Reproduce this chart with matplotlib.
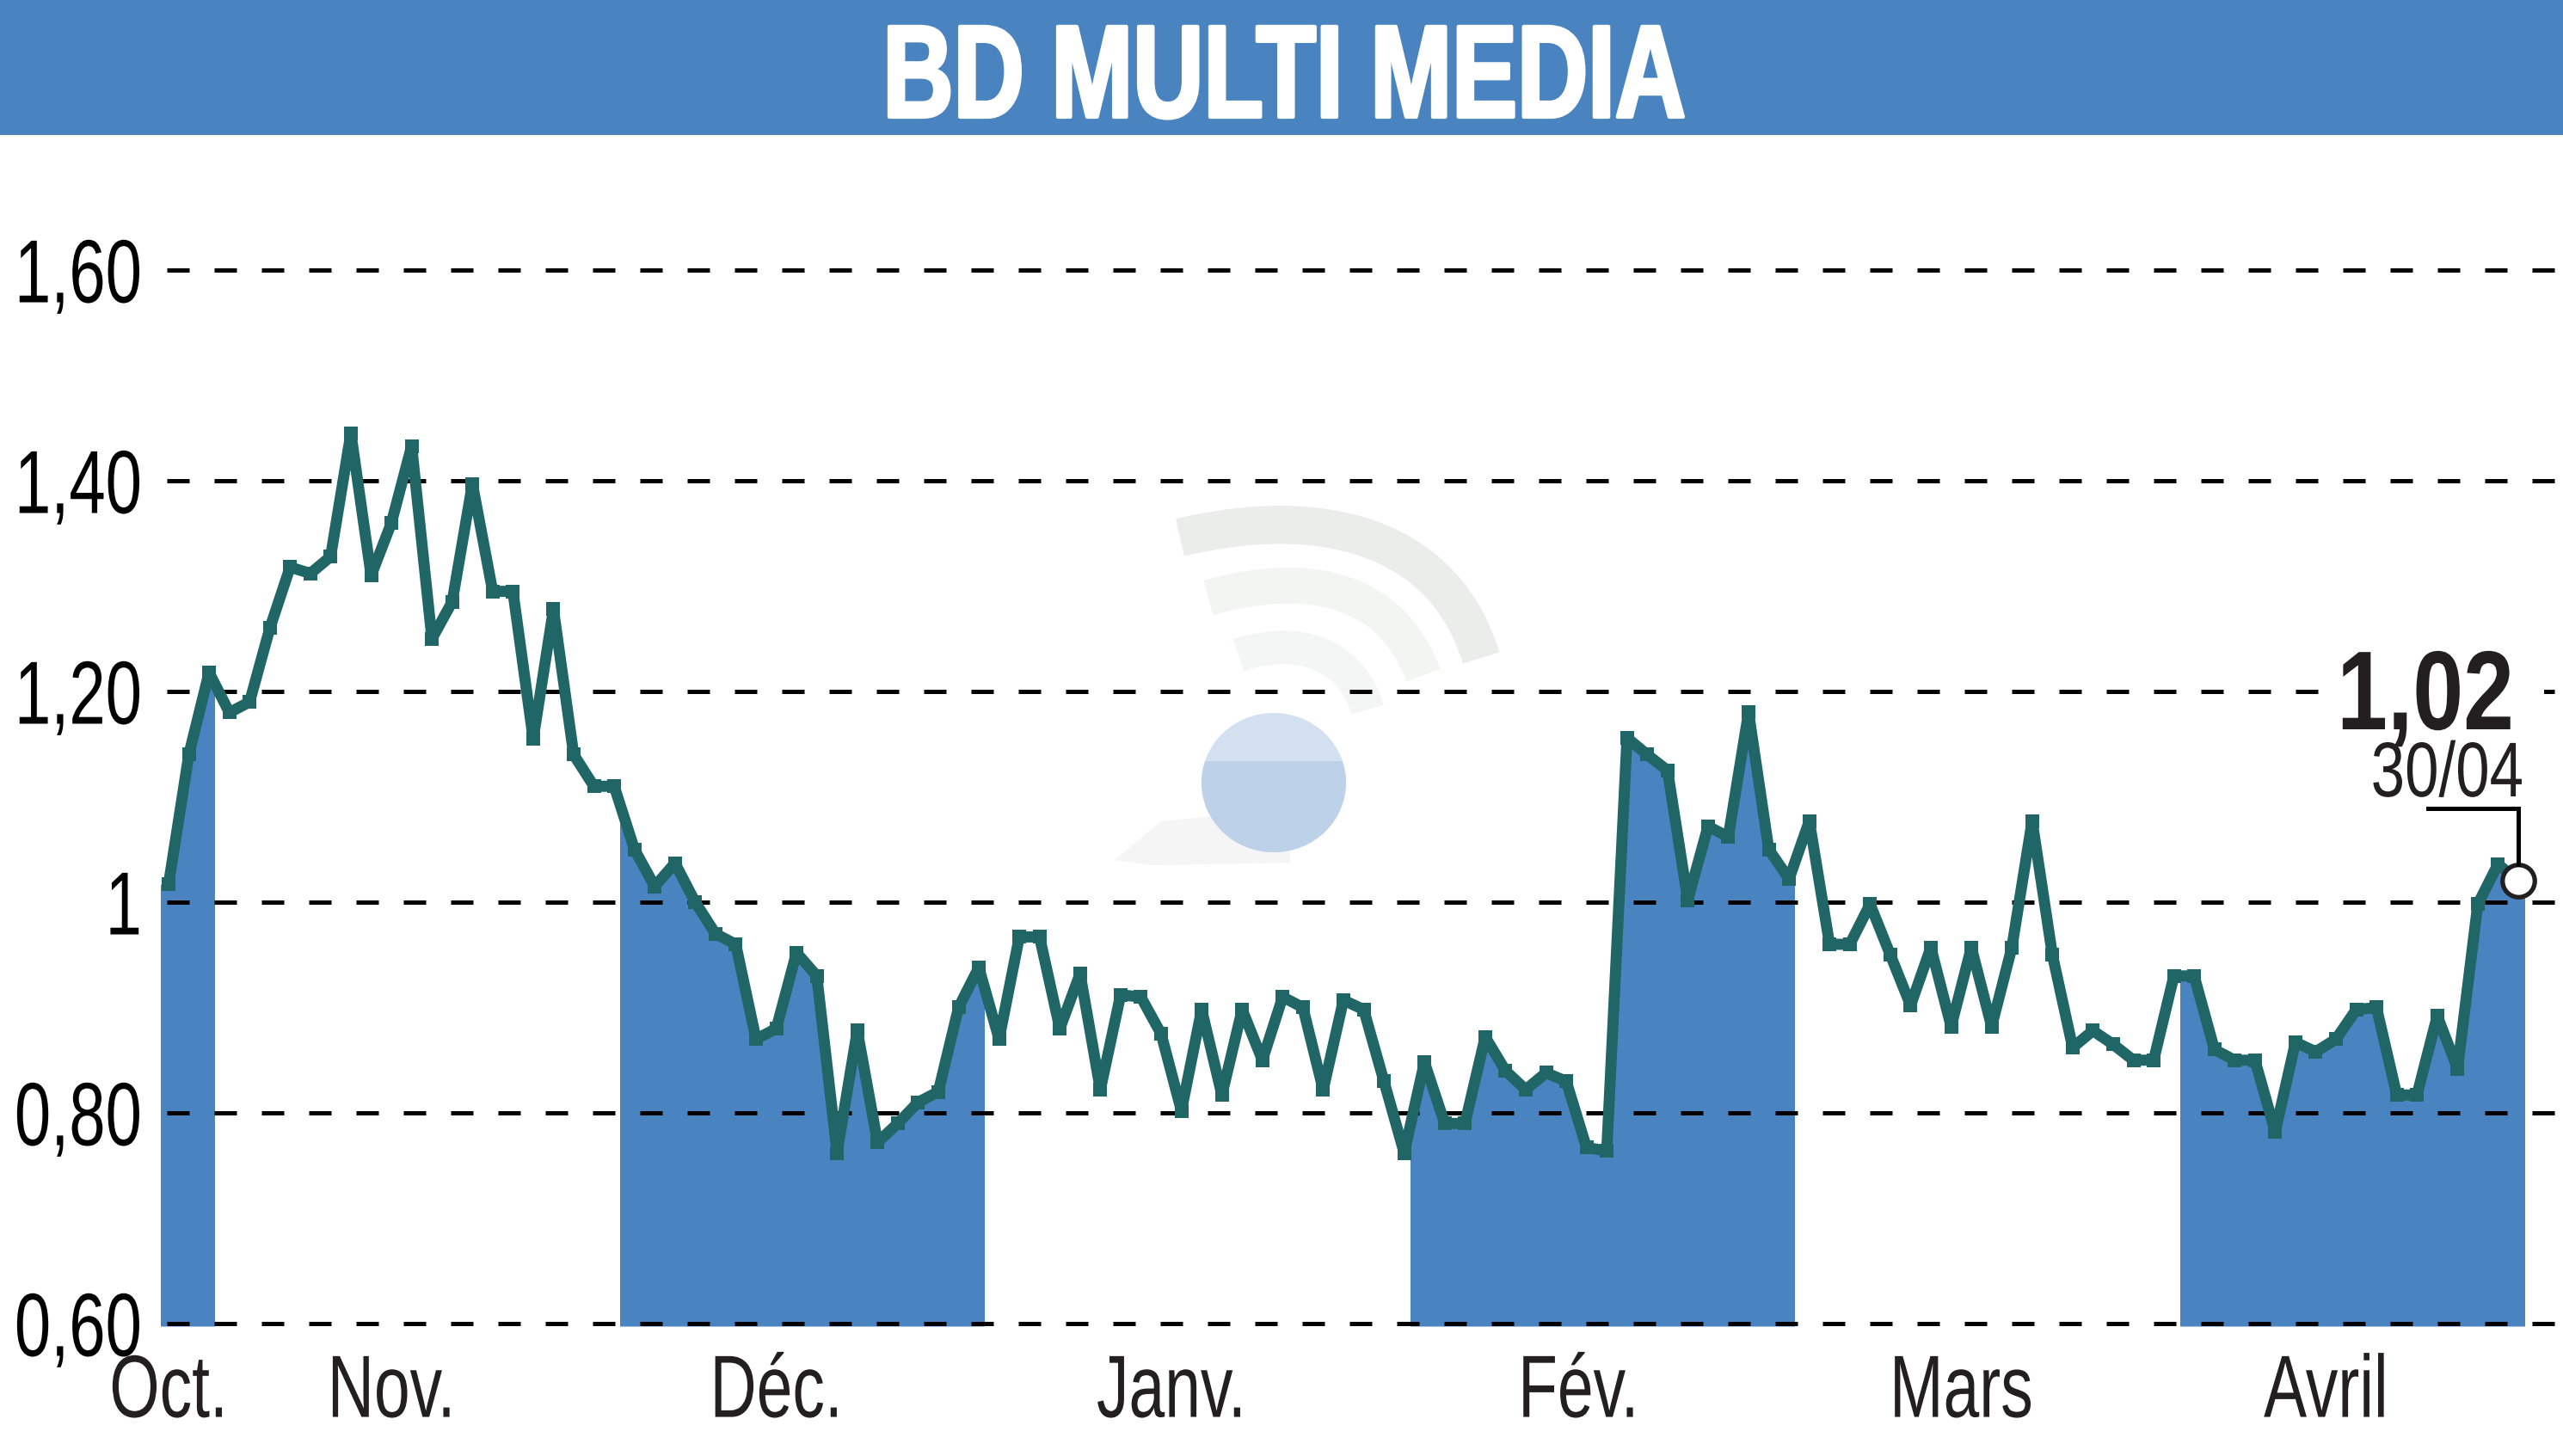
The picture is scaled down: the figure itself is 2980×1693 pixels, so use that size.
import numpy as np
import matplotlib
matplotlib.use("Agg")
import matplotlib.pyplot as plt
from matplotlib.patches import Rectangle, Ellipse, PathPatch, Polygon
from matplotlib.path import Path
from matplotlib.lines import Line2D
from matplotlib.transforms import Affine2D
from matplotlib.patheffects import AbstractPathEffect

title = "BD MULTI MEDIA"
values = [1.017,1.14,1.218,1.18,1.19,1.26,1.318,1.312,1.328,1.445,1.31,1.36,1.433,1.25,1.285,1.397,1.295,1.295,1.155,1.278,
          1.14,1.11,1.11,1.05,1.015,1.037,1.0,.97,.96,.87,.88,.952,.93,.762,.878,.772,.79,.81,.82,.90,
          .938,.87,.967,.967,.88,.932,.822,.912,.91,.875,.802,.898,.817,.898,.85,.91,.90,.822,.907,.898,
          .83,.762,.848,.79,.79,.872,.84,.822,.838,.83,.767,.764,1.156,1.14,1.125,1.002,1.072,1.062,1.18,1.05,
          1.022,1.077,.96,.96,.998,.95,.902,.957,.882,.957,.882,.957,1.077,.95,.862,.878,.865,.85,.85,.93,
          .93,.86,.85,.85,.782,.867,.858,.87,.898,.9,.817,.817,.892,.842,.998,1.036,1.02]
month_labels = ["Oct.", "Nov.", "Déc.", "Janv.", "Fév.", "Mars", "Avril"]
month_pos = [0, 11, 30, 49.5, 69.6, 88.5, 106.5]
bands = [(-0.4, 2.25), (22.3, 40.25), (61.3, 80.25), (99.3, 116.3)]
y_ticks = [0.6, 0.8, 1.0, 1.2, 1.4, 1.6]
y_labels = ["0,60", "0,80", "1", "1,20", "1,40", "1,60"]
last_label = "1,02"
last_date = "30/04"

W, H = 2980, 1693
BLUE = "#4a84c0"
TEAL = "#216666"
INK = "#231f20"
plt.rcParams["font.family"] = ["Liberation Sans", "DejaVu Sans"]


class Condense(AbstractPathEffect):
    """Squeeze a text horizontally about the display position cx, optionally fattening it."""

    def __init__(self, cx, sx, stroke=0.0):
        super().__init__()
        self.squeeze = Affine2D().translate(-cx, 0).scale(sx, 1).translate(cx, 0)
        self.stroke = stroke

    def draw_path(self, renderer, gc, tpath, affine, rgbFace=None):
        gc0 = renderer.new_gc()
        gc0.copy_properties(gc)
        if self.stroke:
            gc0.set_linewidth(self.stroke)
            gc0.set_foreground(rgbFace)
        renderer.draw_path(gc0, tpath, affine + self.squeeze, rgbFace)
        gc0.restore()


fig = plt.figure(figsize=(W / 100, H / 100), dpi=100, facecolor="white")
PX = Affine2D().scale(1, -1).translate(0, H)  # image pixels -> display

# axes geometry, in image pixels
L, R, T, B = 194, 2980, 200, 1542
ax = fig.add_axes([L / W, 1 - B / H, (R - L) / W, (B - T) / H])
Y06, Y10 = 1539.0, 1049.0
per_px = 0.4 / (Y06 - Y10)
ax.set_ylim(0.6 - (B - Y06) * per_px, 0.6 + (Y06 - T) * per_px)
x = np.arange(len(values))
X0, Xn = 196.0, 2928.0
dx = (Xn - X0) / (len(values) - 1)
ax.set_xlim((L - X0) / dx, (R - X0) / dx)
ax.patch.set_alpha(0)
for s in ax.spines.values():
    s.set_visible(False)

# title band
fig.add_artist(Rectangle((0, 0), W, 157, transform=PX, fc=BLUE, ec="none"))
fig.text(1493 / W, 1 - 136 / H, title, color="white", fontsize=110, fontweight="bold", ha="center", va="baseline",
         path_effects=[Condense(1493, 0.745, stroke=3.0)])

# watermark
wm = dict(transform=PX, zorder=0.5, clip_on=False)
for p0, c1, c2, p3, lw, col in [
    ((1372, 625), (1540, 585), (1680, 625), (1722, 765), 32, "#ebedeb"),
    ((1405, 695), (1530, 660), (1620, 690), (1655, 785), 30, "#f2f5f2"),
    ((1440, 762), (1520, 735), (1575, 770), (1590, 825), 28, "#f4f6f5"),
]:
    ax.add_patch(PathPatch(Path([p0, c1, c2, p3], [Path.MOVETO, Path.CURVE4, Path.CURVE4, Path.CURVE4]),
                           fc="none", ec=col, lw=lw, capstyle="butt", **wm))
ax.add_patch(Polygon([(1296, 1000), (1350, 955), (1420, 948), (1500, 990), (1500, 1003), (1340, 1006)],
                     fc="#f5f5f5", ec="none", **wm))
ball = Ellipse((1481, 910), 168, 162, fc="#d2e0f0", ec="none", transform=PX, zorder=0.6, clip_on=False)
ax.add_patch(ball)
lower = Rectangle((1390, 885), 182, 120, fc="#bdd2e8", ec="none", transform=PX, zorder=0.7)
ax.add_patch(lower)
lower.set_clip_path(ball)

# shaded months
fx = np.r_[x[0] - 1, x, x[-1] + 1]
fy = np.r_[values[0], values, values[-1]]
base = ax.get_ylim()[0]
for a, b in bands:
    poly = ax.fill_between(fx, fy, base, color=BLUE, lw=0, zorder=1)
    poly.set_clip_on(True)
    poly.set_clip_path(Rectangle((a, base), b - a, 2, transform=ax.transData))

# ticks and grid
ax.set_yticks(y_ticks, y_labels, fontsize=75, color="black")
ax.set_xticks(month_pos, month_labels, fontsize=74, color=INK)
ax.tick_params(axis="y", length=0, pad=21)
ax.tick_params(axis="x", length=0, pad=76)
fig.canvas.draw()
for lab in ax.get_yticklabels():
    lab.set_va("center_baseline")
    lab.set_path_effects([Condense(165, 0.73)])
for lab, pos in zip(ax.get_xticklabels(), month_pos):
    lab.set_va("baseline")
    lab.set_path_effects([Condense(ax.transData.transform((pos, 1))[0], 0.73)])
ax.set_axisbelow(False)
ax.yaxis.grid(True, color="black", lw=3.6, linestyle=(0, (5.2, 5.8)))
ax.xaxis.grid(False)

# price line
ax.plot(x, values, color=TEAL, lw=9.3, marker="s", ms=11.5, mew=0, solid_joinstyle="bevel", zorder=3, clip_on=False)

# last value callout
ax.add_patch(Rectangle((2700, 790), 258, 30, transform=PX, fc="white", ec="none", zorder=2.8, clip_on=False))
fig.add_artist(Line2D([2823, 2928, 2928], [940, 940, 1005], transform=PX, color="black", lw=3.6, solid_joinstyle="miter"))
ax.plot(x[-1], values[-1], "o", ms=27, mfc="white", mec=INK, mew=3.8, zorder=5, clip_on=False)
fig.text(2923 / W, 1 - 848 / H, last_label, color=INK, fontsize=94, fontweight="bold", ha="right", va="baseline",
         path_effects=[Condense(2923, 0.81)])
fig.text(2934 / W, 1 - 926 / H, last_date, color=INK, fontsize=65, ha="right", va="baseline",
         path_effects=[Condense(2934, 0.785)])

fig.savefig("out.png", dpi=100, facecolor="white")
